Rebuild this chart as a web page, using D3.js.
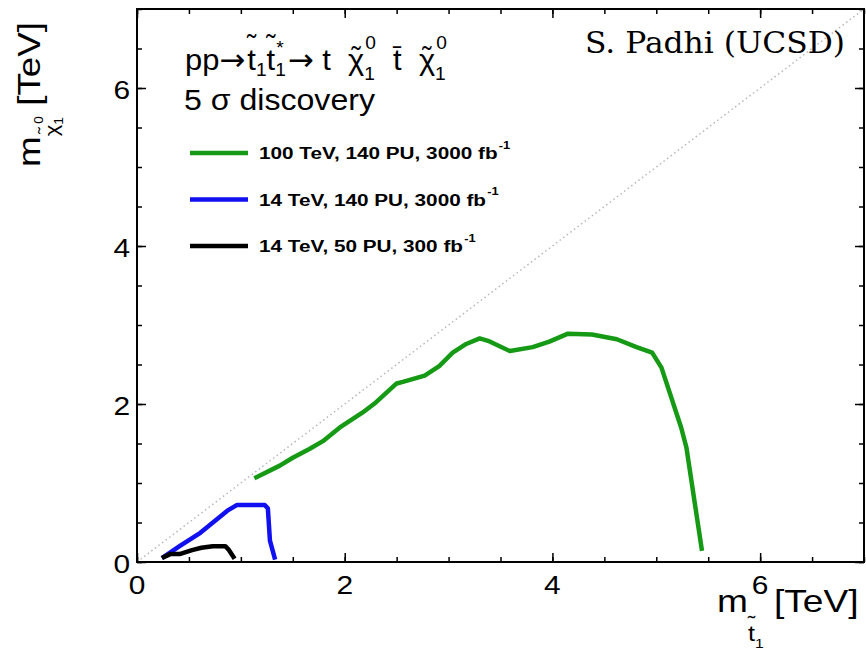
<!DOCTYPE html>
<html>
  <head>
    <meta charset="utf-8">
    <title>Stop discovery reach</title>
    <script src="https://d3js.org/d3.v7.min.js"></script>
    <style>
      body { margin: 0; background: #fff; }
      text { font-family: "Liberation Sans", Arial, sans-serif; fill: #000; white-space: pre; }
    </style>
  </head>
  <body>
    <svg width="866" height="655"></svg>
    <script>
      // Curves, [m_stop, m_chi] in TeV
      var green100 = [[1.13,1.06],[1.375,1.22],[1.5,1.32],[1.66,1.43],[1.79,1.53],[1.95,1.70],
        [2.17,1.89],[2.30,2.02],[2.50,2.26],[2.56,2.28],[2.77,2.36],[2.91,2.48],[3.04,2.65],
        [3.17,2.76],[3.30,2.83],[3.38,2.80],[3.59,2.67],[3.81,2.72],[3.97,2.79],[4.15,2.89],
        [4.38,2.88],[4.62,2.82],[4.81,2.72],[4.96,2.65],[5.05,2.46],[5.24,1.70],[5.29,1.45],[5.44,0.14]];
      var blue14 = [[0.24,0.05],[0.41,0.20],[0.61,0.37],[0.87,0.65],[0.96,0.72],[1.23,0.72],
        [1.26,0.68],[1.28,0.27],[1.33,0.03]];
      var black14 = [[0.24,0.05],[0.32,0.10],[0.41,0.10],[0.53,0.15],[0.62,0.18],[0.73,0.20],
        [0.85,0.20],[0.88,0.16],[0.94,0.04]];

      var legendLabels = ["100 TeV, 140 PU, 3000 fb", "14 TeV, 140 PU, 3000 fb", "14 TeV, 50 PU, 300 fb"];
      var seriesColors = ["#169a16", "#1010f0", "#000000"];
      var majorTicks = [0, 2, 4, 6];
      var minorTicks = d3.range(0, 7.01, 0.5);

      var svg = d3.select("svg");
      var fLeft = 137, fRight = 864, fTop = 9, fBottom = 562;

      var x = d3.scaleLinear().domain([0, 7]).range([fLeft, fRight]);
      var y = d3.scaleLinear().domain([0, 7]).range([fBottom, fTop]);

      // text with accents and stacked super/subscripts, laid out left to right,
      // stretched horizontally by sx
      function rich(parent, x0, y0, parts, size, sx) {
        var g = parent.append("g").attr("transform", "translate(" + x0 + "," + y0 + ") scale(" + (sx || 1) + ",1)");
        var cx = 0;
        parts.forEach(function(p) {
          var s = size * (p.scale || 1);
          var by = size * (p.dy || 0);
          cx += p.gap || 0;
          if (p.text) {
            var t = g.append("text").attr("x", cx).attr("y", by).attr("font-size", s).text(p.text);
            if (p.family) t.style("font-family", p.family);
            var tw = t.node().getComputedTextLength();
            if (p.accent) {
              g.append("text").attr("x", cx + tw / 2).attr("y", by - s * p.accUp)
                .attr("text-anchor", "middle").attr("font-size", s * 0.9).text(p.accent);
            }
            cx += tw;
          }
          var w = 0;
          if (p.sup) {
            var t1 = g.append("text").attr("x", cx + 1).attr("y", by - s * (p.supUp || 0.6))
              .attr("font-size", s * 0.62).text(p.sup);
            w = Math.max(w, t1.node().getComputedTextLength() + 1);
          }
          if (p.sub) {
            var t2 = g.append("text").attr("x", cx).attr("y", by + s * (p.subDn || 0.3))
              .attr("font-size", s * 0.62).text(p.sub);
            w = Math.max(w, t2.node().getComputedTextLength());
          }
          cx += w;
        });
        return g;
      }

      // diagonal m_chi = m_stop
      svg.append("line")
        .attr("x1", x(0)).attr("y1", y(0)).attr("x2", x(7)).attr("y2", y(7))
        .attr("stroke", "#b8b8b8").attr("stroke-width", 1.5).attr("stroke-dasharray", "1.5,3");

      // ticks on all four sides, pointing inward
      function ticks(axis, vals, size) {
        return axis.tickValues(vals).tickSize(-size).tickFormat("");
      }
      var gx = svg.append("g").attr("transform", "translate(0," + fBottom + ")");
      gx.call(ticks(d3.axisBottom(x), minorTicks, 5));
      gx.append("g").call(ticks(d3.axisBottom(x), majorTicks, 9));
      var gt = svg.append("g").attr("transform", "translate(0," + fTop + ")");
      gt.call(ticks(d3.axisTop(x), minorTicks, 5));
      gt.append("g").call(ticks(d3.axisTop(x), majorTicks, 9));
      var gy = svg.append("g").attr("transform", "translate(" + fLeft + ",0)");
      gy.call(ticks(d3.axisLeft(y), minorTicks, 5));
      gy.append("g").call(ticks(d3.axisLeft(y), majorTicks, 9));
      var gr = svg.append("g").attr("transform", "translate(" + fRight + ",0)");
      gr.call(ticks(d3.axisRight(y), minorTicks, 5));
      gr.append("g").call(ticks(d3.axisRight(y), majorTicks, 9));
      svg.selectAll(".domain").remove();
      svg.selectAll(".tick line").attr("stroke", "#000").attr("stroke-width", 1.5);

      svg.append("rect")
        .attr("x", fLeft).attr("y", fTop).attr("width", fRight - fLeft).attr("height", fBottom - fTop)
        .attr("fill", "none").attr("stroke", "#000").attr("stroke-width", 2);

      // tick labels
      svg.append("g").selectAll("text").data(majorTicks).join("text")
        .attr("transform", function(d) { return "translate(" + x(d) + ",594) scale(1.15,1)"; })
        .attr("text-anchor", "middle").attr("font-size", 26).text(function(d) { return d; });
      svg.append("g").selectAll("text").data(majorTicks).join("text")
        .attr("transform", function(d) { return "translate(130," + (y(d) + 11) + ") scale(1.15,1)"; })
        .attr("text-anchor", "end").attr("font-size", 26).text(function(d) { return d; });

      // curves
      var line = d3.line().x(function(d) { return x(d[0]); }).y(function(d) { return y(d[1]); });
      [green100, blue14, black14].forEach(function(s, i) {
        svg.append("path").datum(s).attr("d", line)
          .attr("fill", "none").attr("stroke", seriesColors[i]).attr("stroke-width", 4.5)
          .attr("stroke-linejoin", "round");
      });

      // process and discovery label
      var tl = "\u02dc";
      var arrowFont = "'DejaVu Sans', sans-serif";
      rich(svg, 185, 70, [
        {text: "pp"}, {text: "\u2192", family: arrowFont},
        {text: "t", accent: tl, accUp: 0.55, sub: "1", subDn: 0.2, gap: 2},
        {text: "t", accent: tl, accUp: 0.55, sup: "*", supUp: 0.55, sub: "1", subDn: 0.2},
        {text: "\u2192", family: arrowFont, gap: 2},
        {text: " t  "},
        {text: "\u03c7", accent: tl, accUp: 0.12, sup: "0", supUp: 0.7, sub: "1", subDn: 0.32},
        {text: "  t\u0304  "},
        {text: "\u03c7", accent: tl, accUp: 0.12, sup: "0", supUp: 0.7, sub: "1", subDn: 0.32}
      ], 30, 1.03);
      svg.append("text").attr("transform", "translate(184,110) scale(1.07,1)")
        .attr("font-size", 30).text("5 \u03c3 discovery");

      // legend
      var lg = svg.append("g").attr("font-weight", "bold");
      legendLabels.forEach(function(lab, i) {
        var ly = 153 + i * 46.5;
        lg.append("line").attr("x1", 190).attr("x2", 248).attr("y1", ly).attr("y2", ly)
          .attr("stroke", seriesColors[i]).attr("stroke-width", 4.5);
        rich(lg, 259, ly + 6, [{text: lab, sup: "-1"}], 17, 1.22);
      });

      svg.append("text").attr("transform", "translate(585,53) scale(1.08,1)")
        .attr("font-size", 29).attr("fill", "#111")
        .style("font-family", "'DejaVu Serif', serif")
        .text("S. Padhi (UCSD)");

      // axis titles
      rich(svg, 717, 612, [
        {text: "m"},
        {text: "t", scale: 0.68, dy: 0.9, accent: tl, accUp: 0.5, sub: "1", subDn: 0.35},
        {text: " [TeV]"}
      ], 32, 1.16);
      var yt = svg.append("g").attr("transform", "translate(40,167) rotate(-90)");
      rich(yt, 0, 0, [
        {text: "m"},
        {text: "\u03c7", scale: 0.6, dy: 0.55, accent: tl, accUp: 0.4, sup: "0", supUp: 0.75, sub: "1", subDn: 0.3},
        {text: " [TeV]"}
      ], 32, 1.15);
    </script>
  </body>
</html>
